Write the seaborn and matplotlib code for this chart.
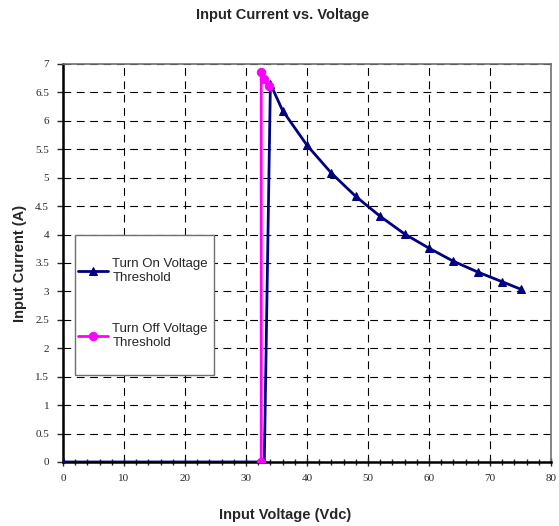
import numpy as np
import pandas as pd
import matplotlib
matplotlib.use('Agg')
import matplotlib.pyplot as plt
from matplotlib.patches import Rectangle
import seaborn as sns

# Turn On Voltage Threshold (navy, triangles)
on_voltage = [0, 33, 34, 36, 40, 44, 48, 52, 56, 60, 64, 68, 72, 75]
on_current = [0, 0, 6.65, 6.18, 5.57, 5.08, 4.67, 4.32, 4.01, 3.76, 3.53, 3.34, 3.17, 3.04]

# Turn Off Voltage Threshold (magenta, circles)
off_voltage = [32.5, 32.5, 33.0, 33.7]
off_current = [0, 6.85, 6.74, 6.62]

x_ticks = np.arange(0, 81, 10)
y_ticks = np.arange(0, 7.01, 0.5)
y_labels = ['0', '0.5', '1', '1.5', '2', '2.5', '3', '3.5', '4', '4.5', '5', '5.5', '6', '6.5', '7']

sns.set_style('white')
plt.rcParams['font.family'] = ['Liberation Sans', 'DejaVu Sans']

fig = plt.figure(figsize=(5.59, 5.26), dpi=100)
ax = fig.add_axes([0.1127, 0.1217, 0.873, 0.7567])

on_df = pd.DataFrame({'V': on_voltage, 'I': on_current})
off_df = pd.DataFrame({'V': off_voltage, 'I': off_current})

sns.lineplot(data=on_df, x='V', y='I', ax=ax, color='#000080', marker='^', markersize=5.5,
             markeredgecolor='#000080', linewidth=2, sort=False, estimator=None,
             label='Turn On Voltage\nThreshold', zorder=3)
sns.lineplot(data=off_df, x='V', y='I', ax=ax, color='#FF00FF', marker='o', markersize=6,
             markeredgecolor='#FF00FF', linewidth=2, sort=False, estimator=None,
             label='Turn Off Voltage\nThreshold', zorder=4)

ax.set_xlim(0, 80)
ax.set_ylim(0, 7)
ax.set_xticks(x_ticks)
ax.set_xticks(np.arange(0, 81, 2), minor=True)
ax.set_yticks(y_ticks)
ax.set_yticklabels(y_labels)
ax.set_xticklabels([str(v) for v in x_ticks])
for lbl in ax.get_xticklabels() + ax.get_yticklabels():
    lbl.set_family('Liberation Serif')
    lbl.set_fontsize(8)

ax.tick_params(axis='x', which='major', direction='inout', length=6, width=1, bottom=True, pad=6)
ax.tick_params(axis='x', which='minor', direction='inout', length=5, width=1, bottom=True)
ax.tick_params(axis='y', which='major', direction='out', length=4, width=1, left=True, pad=6)

ax.grid(True, which='major', color='black', linestyle=(0, (7, 5)), linewidth=0.8)
ax.set_axisbelow(True)

for side in ['left', 'bottom']:
    ax.spines[side].set_color('black')
    ax.spines[side].set_linewidth(1.8)
for side in ['top', 'right']:
    ax.spines[side].set_color('#707070')
    ax.spines[side].set_linewidth(1.2)

ax.set_xlabel('')
ax.set_ylabel('')
fig.text(0.505, 0.972, 'Input Current vs. Voltage', ha='center', va='center',
         fontsize=10.5, fontweight='bold')
fig.text(0.51, 0.021, 'Input Voltage (Vdc)', ha='center', va='center',
         fontsize=10.5, fontweight='bold')
fig.text(0.036, 0.5, 'Input Current (A)', ha='center', va='center', rotation=90,
         fontsize=10.5, fontweight='bold')

# legend box drawn separately so the padding can match the original
ax.add_patch(Rectangle((0.0246, 0.2186), 0.285, 0.352, transform=ax.transAxes,
                       facecolor='white', edgecolor='#707070', linewidth=1.0, zorder=5))
leg = ax.legend(loc='center left', bbox_to_anchor=(0.031, 0.398), fontsize=9.5,
                frameon=False, labelspacing=3.0, borderpad=0, handlelength=2.3,
                handletextpad=0.3, borderaxespad=0)
leg.set_zorder(6)

fig.savefig('out.png', dpi=100)
